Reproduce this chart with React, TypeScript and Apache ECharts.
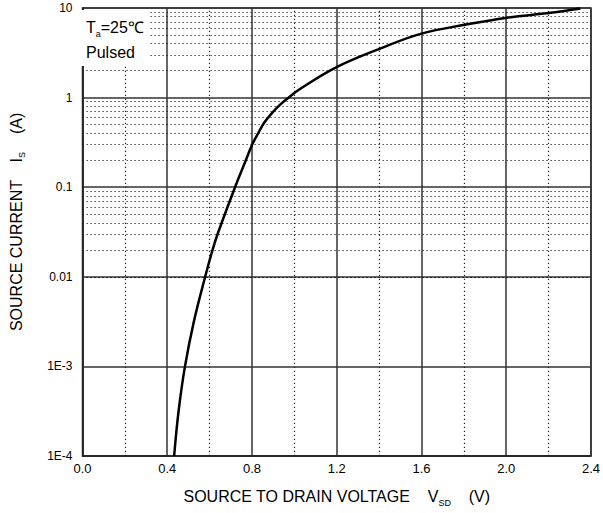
import React, { useEffect, useRef } from "react";
import * as echarts from "echarts";

const xMinorTicks = [0.2, 0.6, 1.0, 1.4, 1.8, 2.2];
const yDecades = [1e-4, 1e-3, 1e-2, 1e-1, 1, 10];
const yTickLabels = ["1E-4", "1E-3", "0.01", "0.1", "1", "10"];
const yMinorMultipliers = [2, 3, 4, 5, 6, 7, 8, 9];

const vsd = [0.4326, 0.4535, 0.4837, 0.5256, 0.579, 0.614, 0.641, 0.72, 0.771, 0.801, 0.829, 0.859, 0.896, 0.933, 0.975, 1.023, 1.195, 1.405, 1.6, 1.81, 2.005, 2.21, 2.35];
const isCurrent = [1e-4, 3.16e-4, 1e-3, 3.16e-3, 0.01, 0.02, 0.0316, 0.1, 0.2, 0.3, 0.4, 0.53, 0.68, 0.835, 1.01, 1.23, 2.16, 3.52, 5.17, 6.53, 7.8, 8.86, 9.9];

const FONT = "'Liberation Sans', Arial, sans-serif";

export default function App() {
  const ref = useRef<HTMLDivElement>(null);
  useEffect(() => {
    if (!ref.current) return;
    const chart = echarts.init(ref.current, null, { renderer: "svg" });
    const yMinor: number[] = [];
    yDecades.slice(0, -1).forEach((d) => yMinorMultipliers.forEach((m) => yMinor.push(d * m)));
    const dotted = { type: [1.2, 2.8] as any, color: "#222", width: 1.2 };
    const option: any = {
      animation: false,
      backgroundColor: "#fff",
      textStyle: { fontFamily: FONT },
      grid: { left: 78, right: 9, top: 8, bottom: 57, show: true, borderColor: "#333", borderWidth: 1.5, backgroundColor: "transparent" },
      xAxis: {
        type: "value",
        min: 0,
        max: 2.4,
        interval: 0.4,
        axisLine: { show: true, lineStyle: { color: "#222", width: 1.5 } },
        axisTick: { show: false },
        axisLabel: { color: "#000", fontSize: 13, fontFamily: FONT, margin: 6, formatter: (v: number) => v.toFixed(1) },
        splitLine: { show: true, lineStyle: { color: "#333", width: 1.5 } },
        name: "SOURCE TO DRAIN VOLTAGE    V{sub|SD}    (V)",
        nameLocation: "middle",
        nameGap: 30,
        nameTextStyle: {
          color: "#000",
          fontSize: 16,
          fontFamily: FONT,
          rich: { sub: { fontSize: 9, fontFamily: FONT, color: "#000", padding: [12, 0, 0, 0] } },
        },
      },
      yAxis: {
        type: "log",
        logBase: 10,
        min: 1e-4,
        max: 10,
        axisLine: { show: true, lineStyle: { color: "#222", width: 1.5 } },
        axisTick: { show: false },
        axisLabel: {
          color: "#000",
          fontSize: 12,
          fontFamily: FONT,
          margin: 10,
          formatter: (v: number) => {
            const idx = yDecades.findIndex((d) => Math.abs(Math.log10(d) - Math.log10(v)) < 1e-6);
            return idx >= 0 ? yTickLabels[idx] : "";
          },
        },
        splitLine: { show: true, lineStyle: { color: "#333", width: 1.5 } },
        name: "SOURCE CURRENT    I{sub|S}    (A)",
        nameLocation: "middle",
        nameRotate: 90,
        nameGap: 56,
        nameTextStyle: {
          color: "#000",
          fontSize: 16,
          fontFamily: FONT,
          padding: [0, 0, 0, 20],
          rich: { sub: { fontSize: 9, fontFamily: FONT, color: "#000", padding: [12, 0, 0, 0] } },
        },
      },
      series: [
        {
          type: "line",
          data: [],
          silent: true,
          markLine: {
            silent: true,
            symbol: "none",
            label: { show: false },
            lineStyle: dotted,
            data: [...yMinor.map((v) => ({ yAxis: v })), ...xMinorTicks.map((v) => ({ xAxis: v }))],
          },
        },
        {
          type: "line",
          data: vsd.map((v, i) => [v, isCurrent[i]]),
          smooth: 0.4,
          showSymbol: false,
          lineStyle: { color: "#000", width: 2.5 },
          z: 10,
        },
      ],
      graphic: [
        {
          type: "rect",
          z: 100,
          shape: { x: 80, y: 10, width: 70, height: 56 },
          style: { fill: "#fff" },
        },
        {
          type: "text",
          z: 101,
          x: 86,
          y: 17,
          style: {
            text: "T{sub|a}=25℃",
            fontSize: 16,
            fontFamily: FONT,
            fill: "#000",
            rich: { sub: { fontSize: 9, fontFamily: FONT, fill: "#000", padding: [12, 0, 0, 0] } },
          },
        },
        {
          type: "text",
          z: 101,
          x: 86,
          y: 44,
          style: { text: "Pulsed", fontSize: 16, fontFamily: FONT, fill: "#000" },
        },
      ],
    };
    chart.setOption(option);
    return () => chart.dispose();
  }, []);
  return <div ref={ref} style={{ position: "absolute", left: 0, top: 0, width: 603, height: 513 }} />;
}
